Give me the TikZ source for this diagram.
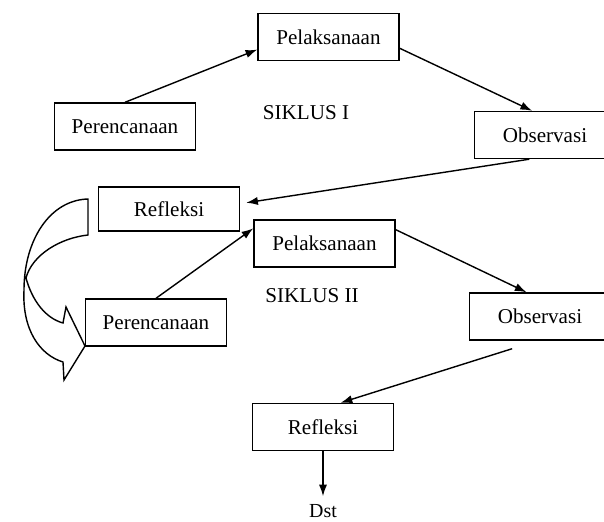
\documentclass[tikz,border=0pt]{standalone}
\usepackage{fontspec}
\setmainfont{Liberation Serif}
\usetikzlibrary{shapes,arrows,arrows.meta}
\usetikzlibrary{calc}

\begin{document}
\begin{tikzpicture}[x=0.03cm, y=-0.03cm,
	box/.style={draw, line width=1.2pt, minimum width=4.23cm, minimum height=1.41cm, inner sep=0pt, font=\fontsize{18}{20}\selectfont},
	flow/.style={-{Latex[length=10pt,width=7pt]}, line width=1.2pt},
	siklus/.style={font=\fontsize{18}{20}\selectfont}]
	\useasboundingbox (0,0) rectangle (604,522);
	
	% siklus I
	\node[box] (pel1) at (328.5,37) {Pelaksanaan};
	\node[box] (per1) at (125,126.5) {Perencanaan};
	\node[box] (obs1) at (545,135) {Observasi};
	\node[box, minimum height=1.32cm] (ref1) at (169,209) {Refleksi};
	\node[siklus] (sik1) at (306,113) {SIKLUS I};
	
	% siklus II
	\node[box] (pel2) at (324.5,243.5) {Pelaksanaan};
	\node[box] (per2) at (156,322.5) {Perencanaan};
	\node[box] (obs2) at (540,316.5) {Observasi};
	\node[box] (ref2) at (323,427) {Refleksi};
	\node[font=\fontsize{17}{20}\selectfont] (dst) at (323,511) {Dst};
	\node[siklus] (sik2) at (312,296) {SIKLUS II};
	
	% arrows of the cycles
	\draw[flow] (per1.north) -- (pel1.190);
	\draw[flow] (pel1.-9) -- (obs1.118);
	\draw[flow] (obs1.237) -- ([xshift=0.18cm]ref1.5);
	\draw[flow] (per2.north) -- (pel2.168);
	\draw[flow] (pel2.11) -- (obs2.119);
	\draw[flow] ([yshift=-0.24cm]obs2.221) -- (ref2.54);
	\draw[flow] (ref2.south) -- ([yshift=0.12cm]dst.north);
	
	% big curved arrow, refleksi to perencanaan
	\draw[line width=1.2pt, line join=miter]
	(88,199) -- (88,235)
	.. controls (60,238) and (32,255) .. (26,278)
	.. controls (32,300) and (45,318) .. (63,323)
	-- (66,307) -- (85,346) -- (64,380) -- (63,362)
	.. controls (40,355) and (22,330) .. (24,290)
	.. controls (24,240) and (50,200) .. cycle;
\end{tikzpicture}
\end{document}
